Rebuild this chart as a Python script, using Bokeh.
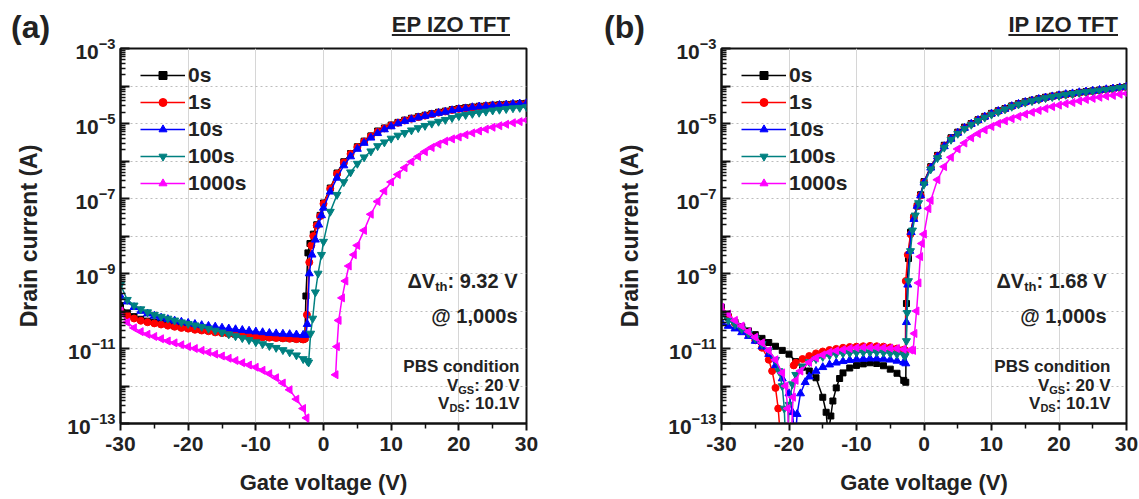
import numpy as np
from bokeh.plotting import figure
from bokeh.models import Range1d, FixedTicker, Legend, LegendItem, Label, Div, GridBox
from bokeh.embed import file_html
from bokeh.resources import INLINE

FONT = "Liberation Sans"
TXT = "#222222"
NAN = float("nan")

# ---------------- data ----------------
SERIES_LABELS = ["0s", "1s", "10s", "100s", "1000s"]
COLORS = ["#000000", "#ff0000", "#0000ff", "#008080", "#ff00ff"]
MARKERS = ["square", "circle", "triangle", "inverted_triangle", "triangle"]
ANGLES = [0.0, 0.0, 0.0, 0.0, np.pi / 2]
SIZES = [6, 7, 8, 8, 8]

PANEL_TAGS = ["(a)", "(b)"]
PANEL_TITLES = ["EP IZO TFT", "IP IZO TFT"]
DELTA_VTH = ["9.32 V", "1.68 V"]
X_TICKS = [-30, -20, -10, 0, 10, 20, 30]
X_MINOR = [-25, -15, -5, 5, 15, 25]

V_OFF = list(range(-30, -2))      # -30 ... -3
V_ON = list(range(1, 31))         # 1 ... 30

# panel (a): EP IZO TFT  (log10 of drain current)
A_0S_V = V_OFF + [-2.75, -2.6, -2.3, -2.0, -1.5, -1.0, -0.5, 0.0] + V_ON
A_0S_LOGI = [-9.85, -10.05, -10.15, -10.22, -10.27, -10.30, -10.33, -10.36, -10.40, -10.42,
             -10.45, -10.47, -10.50, -10.52, -10.55, -10.57, -10.60, -10.62, -10.64, -10.66,
             -10.68, -10.69, -10.70, -10.71, -10.72, -10.73, -10.74, -10.75,
             -10.72, -9.6, -8.45, -8.2, -7.95, -7.7, -7.45, -7.12,
             -6.72, -6.32, -6.02, -5.80, -5.62, -5.47, -5.33, -5.20, -5.12, -5.04,
             -4.97, -4.91, -4.86, -4.82, -4.78, -4.74, -4.70, -4.67, -4.63, -4.60,
             -4.58, -4.56, -4.54, -4.53, -4.51, -4.50, -4.49, -4.48, -4.47, -4.46]

A_1S_V = V_OFF + [-2.75, -2.45, -2.1, -1.8, -1.5, -1.0, -0.5, 0.0] + V_ON
A_1S_LOGI = [-10.0, -10.12, -10.2, -10.26, -10.3, -10.33, -10.36, -10.39, -10.42, -10.45,
             -10.47, -10.5, -10.52, -10.54, -10.57, -10.59, -10.61, -10.63, -10.65, -10.67,
             -10.69, -10.7, -10.71, -10.72, -10.73, -10.74, -10.75, -10.76,
             -10.74, -10.1, -8.7, -8.25, -8.0, -7.72, -7.47, -7.14,
             -6.74, -6.34, -6.04, -5.81, -5.63, -5.48, -5.34, -5.22, -5.13, -5.05,
             -4.98, -4.92, -4.87, -4.83, -4.79, -4.75, -4.71, -4.68, -4.64, -4.61,
             -4.59, -4.57, -4.55, -4.53, -4.52, -4.51, -4.5, -4.49, -4.48, -4.47]

A_10S_V = V_OFF + [-2.6, -2.4, -2.1, -1.7, -1.2, -0.7, -0.3, 0.0] + V_ON
A_10S_LOGI = [-9.6, -9.75, -9.9, -10.0, -10.07, -10.13, -10.18, -10.22, -10.26, -10.29,
              -10.32, -10.35, -10.38, -10.4, -10.42, -10.45, -10.47, -10.49, -10.51, -10.53,
              -10.55, -10.57, -10.59, -10.6, -10.61, -10.62, -10.63, -10.64,
              -10.64, -10.35, -9.0, -8.5, -8.1, -7.7, -7.45, -7.25,
              -6.82, -6.45, -6.12, -5.88, -5.68, -5.52, -5.38, -5.26, -5.16, -5.08,
              -5.0, -4.94, -4.89, -4.84, -4.8, -4.76, -4.72, -4.69, -4.65, -4.62,
              -4.6, -4.57, -4.55, -4.54, -4.52, -4.51, -4.5, -4.48, -4.47, -4.46]

A_100S_V = V_OFF + [-2.4, -2.2, -1.9, -1.6, -1.2, -0.8, -0.3, 0.0] + V_ON
A_100S_LOGI = [-9.3, -9.7, -9.85, -9.95, -10.03, -10.1, -10.15, -10.2, -10.25, -10.3,
               -10.34, -10.38, -10.42, -10.47, -10.52, -10.57, -10.62, -10.67, -10.72, -10.77,
               -10.83, -10.88, -10.93, -10.98, -11.04, -11.1, -11.18, -11.28,
               -11.33, -11.37, -10.6, -10.2, -9.5, -9.0, -8.5, -8.15,
               -7.35, -6.9, -6.56, -6.3, -6.07, -5.9, -5.74, -5.6, -5.5, -5.4,
               -5.32, -5.25, -5.18, -5.12, -5.06, -5.0, -4.95, -4.9, -4.85, -4.8,
               -4.77, -4.74, -4.71, -4.68, -4.65, -4.63, -4.61, -4.59, -4.58, -4.56]

A_1000S_V = V_OFF + [-2.5, -2.2, -2.0, 1.8, 2.0, 2.25, 2.75, 3.25, 3.75, 4.5] + list(range(5, 31))
A_1000S_LOGI = [-10.0, -10.3, -10.45, -10.55, -10.62, -10.68, -10.74, -10.8, -10.85, -10.9,
                -10.95, -11.0, -11.05, -11.1, -11.15, -11.2, -11.26, -11.32, -11.38, -11.44,
                -11.5, -11.58, -11.67, -11.78, -11.92, -12.1, -12.35, -12.6,
                -12.85, -13.1, NAN, -11.7, -10.95, -10.25, -9.65, -9.2, -8.8, -8.5,
                -8.25, -7.85, -7.42, -7.08, -6.8, -6.56, -6.36, -6.18, -6.02, -5.88,
                -5.75, -5.64, -5.55, -5.47, -5.41, -5.36, -5.3, -5.25, -5.2, -5.15,
                -5.1, -5.06, -5.02, -4.98, -4.95, -4.91]

# panel (b): IP IZO TFT  (log10 of drain current)
B_0S_V = [-30, -29, -28, -27, -26, -25, -24, -23, -22, -21, -20, -19, -18, -17, -16, -15,
          -14.5, -14.2, -13.8, -13.5, -13, -12.5, -12,
          -11, -10, -9, -8, -7, -6, -5, -4, -3,
          -2.7, -2.6, -2.3, -2.0, -1.5, -1.0, -0.5, 0.0] + V_ON
B_0S_LOGI = [-9.9, -10.15, -10.3, -10.42, -10.53, -10.63, -10.73, -10.84, -10.94, -11.05,
             -11.15, -11.35, -11.5, -11.6, -11.78, -12.3,
             -12.7, -13.3, -12.8, -12.4, -12.05, -11.8, -11.65,
             -11.52, -11.45, -11.41, -11.38, -11.4, -11.46, -11.55, -11.66, -11.85,
             -11.9, -9.8, -8.6, -7.9, -7.5, -7.2, -6.9, -6.55,
             -6.15, -5.85, -5.58, -5.38, -5.23, -5.1, -5.0, -4.9, -4.81, -4.73,
             -4.66, -4.6, -4.53, -4.47, -4.42, -4.38, -4.34, -4.3, -4.27, -4.24,
             -4.22, -4.2, -4.17, -4.15, -4.13, -4.11, -4.09, -4.07, -4.04, -4.02]

B_1S_V = [-30, -29, -28, -27, -26, -25, -24, -23,
          -22.5, -22, -21.6, -21.3, -20.5, -19.3,
          -19, -18, -17, -16, -15, -14, -13, -12, -11, -10, -9, -8, -7, -6, -5, -4, -3,
          -2.75, -2.7, -2.4, -2.0, -1.5, -1.0, -0.5, 0.0] + V_ON
B_1S_LOGI = [-10.0, -10.15, -10.33, -10.48, -10.62, -10.78, -10.98, -11.3,
             -11.6, -12.05, -12.6, -13.3, NAN, -11.45,
             -11.38, -11.28, -11.2, -11.13, -11.08, -11.04, -11.01, -10.98, -10.96, -10.95,
             -10.94, -10.93, -10.94, -10.95, -10.97, -11.0, -11.03,
             -11.05, -9.2, -8.5, -7.95, -7.5, -7.2, -6.92, -6.57,
             -6.17, -5.87, -5.6, -5.4, -5.25, -5.12, -5.01, -4.91, -4.82, -4.74,
             -4.67, -4.61, -4.54, -4.48, -4.43, -4.39, -4.35, -4.31, -4.28, -4.25,
             -4.23, -4.21, -4.18, -4.16, -4.14, -4.12, -4.1, -4.08, -4.05, -4.03]

B_10S_V = [-30, -29, -28, -27, -26, -25, -24, -23, -22, -21, -20,
           -19.5, -19.2, -19.0, -18.8, -18.3, -17.6,
           -17, -16, -15, -14, -13, -12, -11, -10, -9, -8, -7, -6, -5, -4, -3,
           -2.7, -2.6, -2.4, -2.1, -1.9, -1.5, -1.0, -0.5, 0.0] + V_ON
B_10S_LOGI = [-10.3, -10.4, -10.47, -10.57, -10.67, -10.8, -10.95, -11.15, -11.45, -11.8, -12.2,
              -12.7, -13.3, -13.3, -12.75, -12.2, -11.9,
              -11.75, -11.6, -11.5, -11.43, -11.38, -11.34, -11.31, -11.29, -11.28, -11.27,
              -11.27, -11.28, -11.3, -11.33, -11.37,
              -11.4, -10.3, -9.3, -8.4, -7.9, -7.55, -7.2, -6.92, -6.58,
              -6.18, -5.88, -5.61, -5.41, -5.25, -5.12, -5.01, -4.91, -4.82, -4.74,
              -4.67, -4.61, -4.54, -4.48, -4.43, -4.39, -4.35, -4.31, -4.28, -4.25,
              -4.22, -4.2, -4.17, -4.15, -4.13, -4.11, -4.09, -4.07, -4.04, -4.02]

B_100S_V = [-30, -29, -28, -27, -26, -25, -24, -23, -22,
            -21.5, -21, -20.7, -20.5, -20.2, -20.0, -19.5,
            -19, -18, -17, -16, -15, -14, -13, -12, -11, -10, -9, -8, -7, -6, -5, -4, -3,
            -2.8, -2.6, -2.5, -2.3, -2.0, -1.7, -1.3, -0.8, 0.0] + V_ON
B_100S_LOGI = [-10.1, -10.25, -10.36, -10.48, -10.6, -10.73, -10.88, -11.05, -11.3,
               -11.6, -12.0, -12.6, -13.5, -13.5, -12.5, -11.95,
               -11.7, -11.48, -11.36, -11.28, -11.22, -11.18, -11.15, -11.13, -11.12, -11.11,
               -11.1, -11.1, -11.1, -11.11, -11.13, -11.15, -11.17,
               -11.2, -10.8, -10.05, -9.2, -8.4, -7.85, -7.45, -7.12, -6.62,
               -6.22, -5.92, -5.64, -5.43, -5.27, -5.14, -5.03, -4.93, -4.84, -4.76,
               -4.69, -4.62, -4.55, -4.49, -4.44, -4.4, -4.36, -4.32, -4.29, -4.26,
               -4.23, -4.21, -4.18, -4.16, -4.14, -4.12, -4.1, -4.08, -4.05, -4.03]

B_1000S_V = [-30, -29, -28, -27, -26, -25, -24, -23, -22, -21,
             -20.5, -20.2, -20.0, -19.7, -19.4, -19.0, -18.3,
             -17, -16, -15, -14, -13, -12, -11, -10, -9, -8, -7, -6, -5, -4, -3, -2,
             -1.6, -1.4, -1.1, -0.8, -0.55, -0.3, 0.0, 0.67] + V_ON
B_1000S_LOGI = [-9.9, -10.08, -10.25, -10.4, -10.55, -10.7, -10.85, -11.05, -11.3, -11.65,
                -12.0, -12.6, -13.5, -13.5, -12.3, -11.85, -11.6,
                -11.37, -11.25, -11.17, -11.1, -11.06, -11.03, -11.0, -10.98, -10.97, -10.97,
                -10.97, -10.98, -10.99, -11.0, -11.02, -11.04,
                -11.05, -10.6, -10.0, -9.25, -8.55, -8.2, -7.95, -7.27,
                -7.05, -6.5, -6.15, -5.9, -5.68, -5.52, -5.38, -5.27, -5.17, -5.08,
                -5.0, -4.93, -4.87, -4.81, -4.75, -4.7, -4.65, -4.6, -4.55, -4.51,
                -4.47, -4.44, -4.4, -4.36, -4.33, -4.3, -4.27, -4.25, -4.22, -4.2]

PANEL_A = [(A_0S_V, A_0S_LOGI), (A_1S_V, A_1S_LOGI), (A_10S_V, A_10S_LOGI),
           (A_100S_V, A_100S_LOGI), (A_1000S_V, A_1000S_LOGI)]
PANEL_B = [(B_0S_V, B_0S_LOGI), (B_1S_V, B_1S_LOGI), (B_10S_V, B_10S_LOGI),
           (B_100S_V, B_100S_LOGI), (B_1000S_V, B_1000S_LOGI)]
for v, l in PANEL_A + PANEL_B:
    assert len(v) == len(l), (len(v), len(l))

# ---------------- layout ----------------
FIG_H = 499
B_TOP, B_BOT = 48, 76
PLOT_H = FIG_H - B_TOP - B_BOT   # 375

AW = {' ': 278, ':': 333, '.': 278, ',': 278, 'V': 667, 'G': 778, 'S': 667, 'D': 722,
      't': 333, 'h': 611, 'Δ': 612}


def tw(s, size):
    return sum(AW.get(c, 556) for c in s) * size / 1000.0


def make_panel(series, dv, width, bl, br, r1_off, r2_off):
    pw = width - bl - br
    p = figure(width=width, height=FIG_H, y_axis_type="log",
               x_range=Range1d(-30, 30), y_range=Range1d(1e-13, 1e-3),
               output_backend="svg", toolbar_location=None,
               min_border_left=bl, min_border_right=br,
               min_border_top=B_TOP, min_border_bottom=B_BOT)
    p.background_fill_color = "white"
    p.border_fill_color = "white"
    p.outline_line_color = "#111111"
    p.outline_line_width = 2

    xa = p.xaxis[0]
    xa.ticker = FixedTicker(ticks=X_TICKS, minor_ticks=X_MINOR)
    xa.major_label_overrides = {t: str(t) for t in X_TICKS}
    xa.axis_label = "Gate voltage (V)"
    ya = p.yaxis[0]
    ya.ticker = FixedTicker(ticks=[10.0 ** e for e in range(-13, -2)],
                            minor_ticks=[k * 10.0 ** e for e in range(-13, -3) for k in range(2, 10)])
    ya.major_label_overrides = {10.0 ** e: "" for e in (-12, -10, -8, -6, -4)}
    ya.axis_label = "Drain current (A)"

    for ax in (xa, ya):
        ax.axis_line_width = 2
        ax.axis_line_color = "#111111"
        ax.major_tick_line_width = 2
        ax.minor_tick_line_width = 1.5
        ax.major_tick_line_color = "#111111"
        ax.minor_tick_line_color = "#111111"
        ax.major_label_text_font = FONT
        ax.major_label_text_font_style = "bold"
        ax.major_label_text_font_size = "21px"
        ax.major_label_text_color = TXT
        ax.axis_label_text_font = FONT
        ax.axis_label_text_font_style = "bold"
        ax.axis_label_text_color = TXT
    xa.major_tick_in, xa.major_tick_out = 0, 7
    xa.minor_tick_in, xa.minor_tick_out = 0, 5
    xa.major_label_standoff = 6
    xa.axis_label_text_font_size = "22px"
    xa.axis_label_standoff = 16
    ya.major_tick_in, ya.major_tick_out = 9, 0
    ya.minor_tick_in, ya.minor_tick_out = 5, 0
    ya.major_label_standoff = 5
    ya.axis_label_text_font_size = "23px"
    ya.axis_label_standoff = 22

    p.xgrid.grid_line_color = "#d6d6d6"
    p.xgrid.grid_line_width = 1
    p.ygrid.grid_line_color = "#bdbdbd"
    p.ygrid.grid_line_dash = "2 3"
    p.ygrid.grid_line_width = 1.2

    items = []
    for i, (vx, lg) in enumerate(series):
        x = np.array(vx, dtype=float)
        y = np.power(10.0, np.array(lg, dtype=float))
        ln = p.line(x, y, line_color=COLORS[i], line_width=1.5)
        sc = p.scatter(x, y, marker=MARKERS[i], size=SIZES[i], angle=ANGLES[i],
                       fill_color=COLORS[i], line_color=COLORS[i], line_width=1)
        items.append(LegendItem(label=SERIES_LABELS[i], renderers=[ln, sc]))

    leg = Legend(items=items, location=(20, 228), padding=0, margin=0, spacing=3,
                 glyph_width=45, glyph_height=20, label_height=20, label_standoff=3,
                 label_text_font=FONT, label_text_font_style="bold",
                 label_text_font_size="21px", label_text_color=TXT,
                 border_line_color=None, background_fill_alpha=0)
    p.add_layout(leg)

    def lab(X, Y, s, size, align="right"):
        # X from frame left, Y from frame top (pixels)
        p.add_layout(Label(x=X, y=PLOT_H - Y, x_units="screen", y_units="screen", text=s,
                           text_font=FONT, text_font_style="bold",
                           text_font_size=f"{size}px", text_align=align,
                           text_baseline="middle", text_color=TXT))

    r1 = pw - r1_off
    r2 = pw - r2_off
    piece = ": " + dv
    lab(r1, 232, piece, 20)
    x_th = r1 - tw(piece, 20)
    lab(x_th, 238, "th", 13)
    lab(x_th - tw("th", 13), 232, "ΔV", 20)
    lab(r1, 267, "@ 1,000s", 20)
    lab(r2, 318, "PBS condition", 17)
    for yy, sub, val in ((337, "GS", ": 20 V"), (355, "DS", ": 10.1V")):
        lab(r2, yy, val, 17)
        xs = r2 - tw(val, 17)
        lab(xs, yy + 4, sub, 11)
        lab(xs - tw(sub, 11), yy, "V", 17)
    return p


def make_header(tag, title, width, tag_left, title_right):
    html = (
        f'<div style="position:relative;width:{width}px;height:48px;margin:0;padding:0;'
        f"font-family:'{FONT}',Arial,sans-serif;font-weight:bold;color:{TXT};\">"
        f'<span style="position:absolute;left:{tag_left}px;top:11px;font-size:32px;'
        f'line-height:32px;white-space:nowrap;">{tag}</span>'
        f'<span style="position:absolute;right:{width - title_right}px;top:14px;font-size:22px;'
        f'line-height:22px;white-space:nowrap;text-decoration:underline;'
        f'text-decoration-thickness:2px;text-underline-offset:2px;">{title}</span>'
        f'</div>'
    )
    return Div(text=html, width=width, height=48, align="start", margin=0,
               styles={"position": "relative", "z-index": "10", "pointer-events": "none"})


WA, WB = 578, 561
pa = make_panel(PANEL_A, DELTA_VTH[0], WA, 120, 52, 9, 7)
pb = make_panel(PANEL_B, DELTA_VTH[1], WB, 143, 13, 20, 16)
ha = make_header(PANEL_TAGS[0], PANEL_TITLES[0], WA, 11, 510)
hb = make_header(PANEL_TAGS[1], PANEL_TITLES[1], WB, 26, 540)

layout = GridBox(children=[(pa, 0, 0), (ha, 0, 0), (pb, 0, 1), (hb, 0, 1)], spacing=0)
open("out.html", "w").write(file_html(layout, INLINE))
